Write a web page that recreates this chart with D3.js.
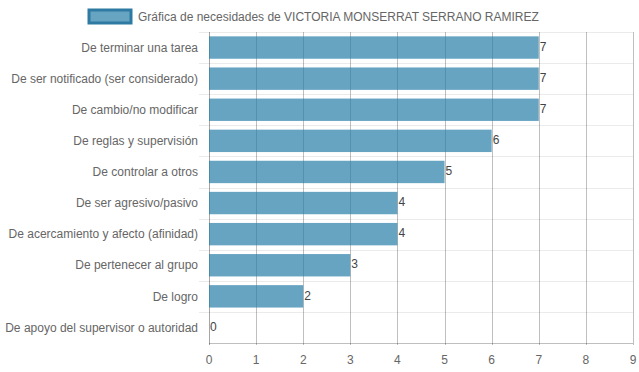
<!DOCTYPE html>
<html>
<head>
<meta charset="utf-8">
<script src="https://cdn.jsdelivr.net/npm/d3@7"></script>
<style>
  body { margin: 0; background: #fff; }
  svg { display: block; font-family: "Liberation Sans", Arial, Helvetica, sans-serif; }
</style>
</head>
<body>
<div id="chart"></div>
<script>
const WIDTH = 639
const HEIGHT = 372

// chart data
var categories = [
  "De terminar una tarea",
  "De ser notificado (ser considerado)",
  "De cambio/no modificar",
  "De reglas y supervisión",
  "De controlar a otros",
  "De ser agresivo/pasivo",
  "De acercamiento y afecto (afinidad)",
  "De pertenecer al grupo",
  "De logro",
  "De apoyo del supervisor o autoridad"
]
var values = [7, 7, 7, 6, 5, 4, 4, 3, 2, 0]
var xTicks = [0, 1, 2, 3, 4, 5, 6, 7, 8, 9]
var seriesLabel = "Gráfica de necesidades de VICTORIA MONSERRAT SERRANO RAMIREZ"

var margin = {top: 32, right: 6, bottom: 29, left: 209},
    width = WIDTH - margin.left - margin.right,
    height = HEIGHT - margin.top - margin.bottom;

var barFill = "rgba(38,125,168,0.7)"
var barStroke = "rgb(46,122,162)"

var svg = d3.select("#chart")
  .append("svg")
  .attr("width", WIDTH)
  .attr("height", HEIGHT)

// legend
var legend = svg.append("g").attr("transform", "translate(89,10)")
legend.append("rect")
  .attr("x", 0).attr("y", 0)
  .attr("width", 42).attr("height", 13)
  .style("fill", barFill)
  .style("stroke", barStroke)
  .style("stroke-width", 3)
legend.append("text")
  .attr("x", 49).attr("y", 6.5)
  .attr("dy", "0.35em")
  .style("font-size", "12px")
  .style("fill", "#666")
  .text(seriesLabel)

var g = svg.append("g")
  .attr("transform", "translate(" + margin.left + "," + margin.top + ")")

var x = d3.scaleLinear()
  .domain([0, 9])
  .range([0, width])

var y = d3.scaleBand()
  .domain(categories)
  .range([0, height])

// horizontal grid lines at category boundaries (with tick marks)
var bounds = categories.map(function(c) { return y(c) })
g.selectAll(".hgrid")
  .data(bounds)
  .enter()
  .append("line")
  .attr("x1", -10).attr("x2", width)
  .attr("y1", function(d) { return Math.round(d) + 0.5 })
  .attr("y2", function(d) { return Math.round(d) + 0.5 })
  .style("stroke", "rgba(0,0,0,0.08)")

// vertical grid lines
g.selectAll(".vgrid")
  .data(xTicks)
  .enter()
  .append("line")
  .attr("x1", function(d) { return Math.round(x(d)) + 0.5 })
  .attr("x2", function(d) { return Math.round(x(d)) + 0.5 })
  .attr("y1", 0).attr("y2", height + 2)
  .style("stroke", function(d) { return d == 0 ? "rgba(0,0,0,0.35)" : "rgba(0,0,0,0.25)" })

// x axis line
g.append("line")
  .attr("x1", 0).attr("x2", width)
  .attr("y1", Math.round(height) + 0.5).attr("y2", Math.round(height) + 0.5)
  .style("stroke", "rgba(0,0,0,0.25)")

// bars
var barH = y.bandwidth() * 0.72
g.selectAll(".bar")
  .data(values)
  .enter()
  .append("rect")
  .attr("x", x(0))
  .attr("y", function(d, i) { return y(categories[i]) + (y.bandwidth() - barH) / 2 })
  .attr("width", function(d) { return x(d) - x(0) })
  .attr("height", barH)
  .style("fill", barFill)

// value labels
g.selectAll(".val")
  .data(values)
  .enter()
  .append("text")
  .attr("x", function(d) { return x(d) + 1 })
  .attr("y", function(d, i) { return y(categories[i]) + y.bandwidth() / 2 - 1 })
  .attr("dy", "0.35em")
  .style("font-size", "12px")
  .style("fill", "#444")
  .text(function(d) { return d })

// category labels
g.selectAll(".cat")
  .data(categories)
  .enter()
  .append("text")
  .attr("x", -11)
  .attr("y", function(d) { return y(d) + y.bandwidth() / 2 })
  .attr("dy", "0.35em")
  .style("text-anchor", "end")
  .style("font-size", "12px")
  .style("fill", "#666")
  .text(function(d) { return d })

// tick labels
g.selectAll(".tick-label")
  .data(xTicks)
  .enter()
  .append("text")
  .attr("x", function(d) { return x(d) })
  .attr("y", height + 17)
  .attr("dy", "0.35em")
  .style("text-anchor", "middle")
  .style("font-size", "12px")
  .style("fill", "#666")
  .text(function(d) { return d })
</script>
</body>
</html>
